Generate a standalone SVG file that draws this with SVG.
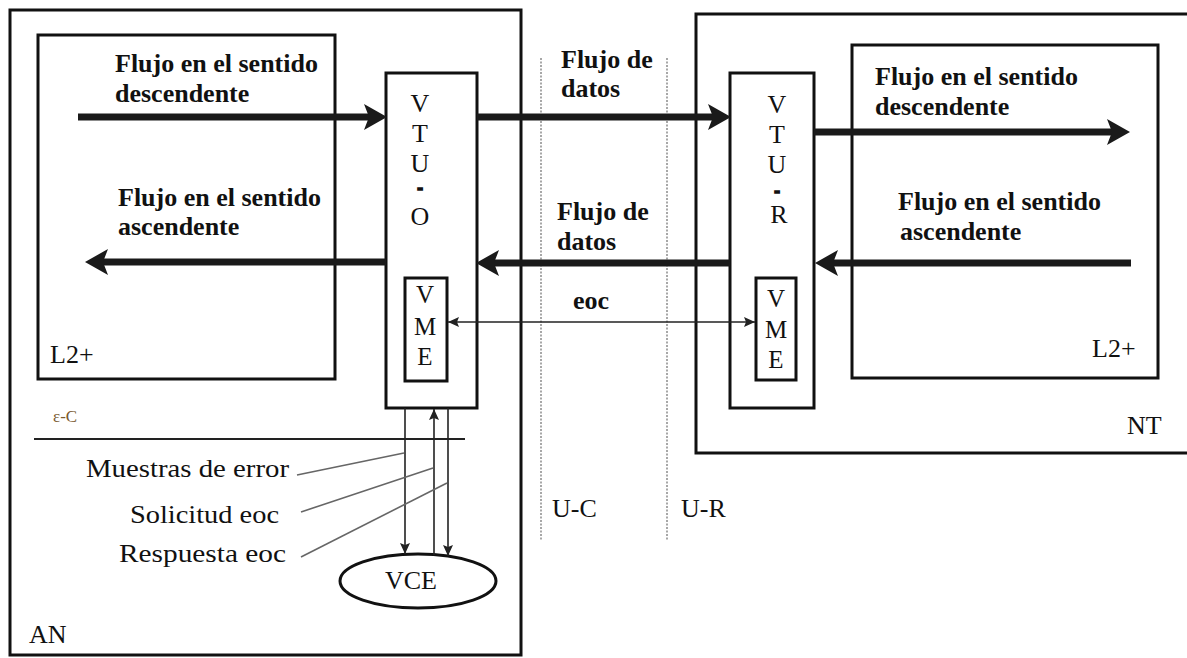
<svg xmlns="http://www.w3.org/2000/svg" width="1187" height="658" viewBox="0 0 1187 658">
<style>
.box{fill:none;stroke:#111;stroke-width:3}
.fill{fill:#fff;stroke:#111;stroke-width:3}
.thick{fill:none;stroke:#1a1a1a;stroke-width:7}
.thin{fill:none;stroke:#222;stroke-width:1.6}
.lead{fill:none;stroke:#666;stroke-width:1.6}
.dash{fill:none;stroke:#8a8a8a;stroke-width:1.5;stroke-dasharray:2 1.5}
.b{font-family:'Liberation Serif','Tinos','DejaVu Serif','Times New Roman',serif;font-size:26px;font-weight:bold;fill:#111}
.r{font-family:'Liberation Serif','Tinos','DejaVu Serif','Times New Roman',serif;font-size:26px;fill:#111}
.s{font-family:'Liberation Serif','Tinos','DejaVu Serif','Times New Roman',serif;font-size:25px;fill:#111}
.hy{font-family:'Liberation Sans',Arial,sans-serif;font-size:17px;font-weight:bold;fill:#111;stroke:#111;stroke-width:1.6;text-anchor:middle}
.m{text-anchor:middle}
</style>
<defs>
<marker id="big" markerUnits="userSpaceOnUse" markerWidth="26" markerHeight="30" refX="8" refY="14" orient="auto">
<path d="M0,1 L23,14 L0,27 L5,14 Z" fill="#1a1a1a"/>
</marker>
<marker id="small" markerUnits="userSpaceOnUse" markerWidth="12" markerHeight="12" refX="11" refY="5" orient="auto">
<path d="M0,0 L11,5 L0,10 L2,5 Z" fill="#222"/>
</marker>
<marker id="smallStart" markerUnits="userSpaceOnUse" markerWidth="12" markerHeight="12" refX="0" refY="5" orient="auto">
<path d="M11,0 L0,5 L11,10 L9,5 Z" fill="#222"/>
</marker>
</defs>
<rect width="1187" height="658" fill="#fff"/>

<g id="AN">
<rect class="box" x="10" y="10" width="511" height="645"/>
<text class="r" x="29" y="643">AN</text>
</g>
<g id="L2plus-AN">
<rect class="box" x="38" y="35" width="297" height="344"/>
<text class="r" x="50" y="363">L2+</text>
</g>
<g id="NT">
<rect class="box" x="696" y="14" width="500" height="439"/>
<text class="r" x="1127" y="434">NT</text>
</g>
<g id="L2plus-NT">
<rect class="box" x="852" y="45" width="306" height="333"/>
<text class="r" x="1092" y="357">L2+</text>
</g>

<g id="interfaces">
<line class="dash" x1="541" y1="58" x2="541" y2="541"/>
<line class="dash" x1="667" y1="58" x2="667" y2="541"/>
<text class="r" x="552" y="517">U-C</text>
<text class="r" x="681" y="517">U-R</text>
</g>

<g id="eps-C">
<text x="53" y="422" font-family="'Liberation Serif','DejaVu Serif',serif" font-size="17" fill="#7a5a2e">ε-C</text>
<line x1="34" y1="439" x2="465" y2="439" stroke="#222" stroke-width="2"/>
</g>

<g id="VTU-O">
<rect class="fill" x="386" y="73" width="91" height="335"/>
<text class="r m" x="420" y="112">V</text>
<text class="r m" x="420" y="142">T</text>
<text class="r m" x="420" y="172">U</text>
<text class="hy" x="420" y="193">-</text>
<text class="r m" x="420" y="225">O</text>
</g>
<g id="VME-O">
<rect class="box" x="405" y="278" width="42" height="103"/>
<text class="s m" x="425" y="303">V</text>
<text class="s m" x="425" y="335">M</text>
<text class="s m" x="425" y="365">E</text>
</g>

<g id="VTU-R">
<rect class="fill" x="730" y="73" width="84" height="335"/>
<text class="r m" x="777" y="113">V</text>
<text class="r m" x="777" y="143">T</text>
<text class="r m" x="777" y="173">U</text>
<text class="hy" x="777" y="196">-</text>
<text class="r m" x="779" y="223">R</text>
</g>
<g id="VME-R">
<rect class="box" x="756" y="278" width="40" height="102"/>
<text class="s m" x="776" y="307">V</text>
<text class="s m" x="776" y="338">M</text>
<text class="s m" x="776" y="368">E</text>
</g>

<g id="VCE">
<ellipse class="box" cx="418" cy="581" rx="78" ry="27"/>
<text class="r m" x="411" y="589">VCE</text>
</g>

<g id="connectors">
<line class="thick" x1="78" y1="117" x2="372" y2="117" marker-end="url(#big)"/>
<line class="thick" x1="386" y1="262" x2="100" y2="262" marker-end="url(#big)"/>
<line class="thick" x1="477" y1="117" x2="716" y2="117" marker-end="url(#big)"/>
<line class="thick" x1="730" y1="263" x2="491" y2="263" marker-end="url(#big)"/>
<line class="thick" x1="814" y1="132" x2="1115" y2="132" marker-end="url(#big)"/>
<line class="thick" x1="1131" y1="263" x2="830" y2="263" marker-end="url(#big)"/>
<line class="thin" x1="448" y1="322" x2="755" y2="322" marker-start="url(#smallStart)" marker-end="url(#small)"/>
<line class="thin" x1="405" y1="408" x2="405" y2="554" marker-end="url(#small)"/>
<line class="thin" x1="434" y1="555" x2="434" y2="409" marker-end="url(#small)"/>
<line class="thin" x1="448" y1="408" x2="448" y2="556" marker-end="url(#small)"/>
<line class="lead" x1="297" y1="475" x2="404" y2="453"/>
<line class="lead" x1="301" y1="512" x2="433" y2="468"/>
<line class="lead" x1="301" y1="557" x2="447" y2="483"/>
</g>

<g id="labels">
<text class="b" x="115" y="72">Flujo en el sentido</text>
<text class="b" x="115" y="102">descendente</text>
<text class="b" x="118" y="206">Flujo en el sentido</text>
<text class="b" x="118" y="235">ascendente</text>
<text class="b" x="561" y="68">Flujo de</text>
<text class="b" x="561" y="97">datos</text>
<text class="b" x="557" y="220">Flujo de</text>
<text class="b" x="557" y="250">datos</text>
<text class="b" x="573" y="309">eoc</text>
<text class="b" x="875" y="85">Flujo en el sentido</text>
<text class="b" x="875" y="115">descendente</text>
<text class="b" x="898" y="210">Flujo en el sentido</text>
<text class="b" x="900" y="240">ascendente</text>
<text class="s" x="86" y="477" textLength="203" lengthAdjust="spacingAndGlyphs">Muestras de error</text>
<text class="s" x="130" y="523" textLength="149" lengthAdjust="spacingAndGlyphs">Solicitud eoc</text>
<text class="s" x="119" y="562" textLength="167" lengthAdjust="spacingAndGlyphs">Respuesta eoc</text>
</g>
</svg>
